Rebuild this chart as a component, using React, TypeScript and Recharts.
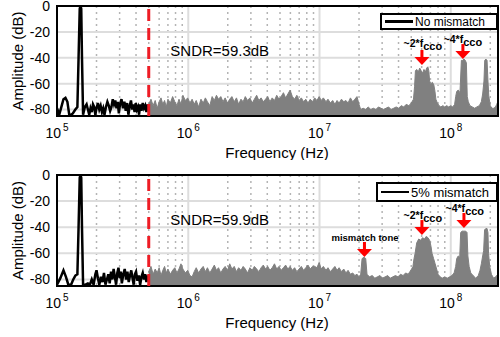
import { ComposedChart, Line, Area, XAxis, YAxis, CartesianGrid, ReferenceLine, ReferenceDot, ReferenceArea } from 'recharts'

const FONT = '"Liberation Sans", Arial, Helvetica, sans-serif'

const xTicks = [1e5, 1e6, 1e7, 1e8]
const xTickExp = ['5', '6', '7', '8']
const yTicks = [-80, -60, -40, -20, 0]
const yGrid = [-80, -60, -40, -20]
const majorGrid = [1e6, 1e7, 1e8]
const minorGrid = [
  2e5, 3e5, 4e5, 5e5, 6e5, 7e5, 8e5, 9e5,
  2e6, 3e6, 4e6, 5e6, 6e6, 7e6, 8e6, 9e6,
  2e7, 3e7, 4e7, 5e7, 6e7, 7e7, 8e7, 9e7,
  2e8,
]
const fRange = [1e5, 2.29e8]
const dbRange = [-85, 0]
const bandEdge = 5e5

// signal band (black), [kHz, dB]
const topInBand = [
  [100, -79], [104, -84], [108, -78], [112, -72], [116, -71], [120, -74], [124, -84], [128, -84],
  [132, -83], [138, -80], [143, -78], [146, -40], [149, -2], [151, 0], [153, -2], [155, -40],
  [158, -84], [163, -78], [168, -76], [172, -80], [176, -84], [180, -79], [184, -82], [188, -76],
  [192, -78], [196, -84], [200, -79], [205, -75], [210, -80], [215, -77], [220, -82], [225, -79],
  [230, -84], [236, -78], [242, -74], [248, -77], [254, -81], [260, -78], [266, -72], [272, -76],
  [278, -73], [284, -79], [290, -74], [296, -83], [302, -76], [310, -72], [318, -79], [326, -74],
  [334, -81], [342, -75], [350, -84], [358, -77], [366, -73], [374, -80], [382, -76], [390, -82],
  [398, -75], [406, -80], [414, -78], [422, -84], [430, -76], [440, -81], [450, -75], [460, -79],
  [470, -77], [480, -82], [490, -76], [500, -79],
]

// out of band (gray), [MHz, dB]
const topOutBand = [
  [0.5, -76], [0.52, -72], [0.54, -77], [0.56, -73], [0.58, -79], [0.6, -74], [0.62, -71], [0.64, -76],
  [0.66, -73], [0.68, -78], [0.7, -72], [0.73, -75], [0.76, -70], [0.79, -74], [0.82, -77], [0.85, -72],
  [0.88, -76], [0.91, -69], [0.95, -73], [0.99, -71], [1.03, -75], [1.07, -72], [1.11, -76], [1.15, -73],
  [1.2, -78], [1.25, -72], [1.3, -75], [1.35, -71], [1.4, -74], [1.46, -77], [1.52, -70], [1.58, -73],
  [1.64, -69], [1.7, -72], [1.77, -70], [1.84, -74], [1.91, -71], [1.99, -75], [2.07, -72], [2.15, -70],
  [2.24, -74], [2.33, -71], [2.42, -76], [2.52, -72], [2.62, -74], [2.72, -70], [2.83, -73], [2.95, -71],
  [3.07, -75], [3.19, -72], [3.32, -69], [3.45, -73], [3.59, -71], [3.73, -74], [3.88, -72], [4.03, -70],
  [4.19, -74], [4.36, -71], [4.54, -73], [4.72, -69], [4.91, -72], [5.1, -70], [5.31, -67], [5.52, -71],
  [5.74, -68], [5.97, -65], [6.21, -70], [6.46, -72], [6.72, -69], [6.99, -73], [7.27, -71], [7.56, -74],
  [7.86, -72], [8.17, -75], [8.5, -72], [8.84, -74], [9.19, -71], [9.56, -73], [9.94, -70], [10.3, -73],
  [10.7, -71], [11.2, -74], [11.6, -72], [12.1, -75], [12.6, -73], [13.1, -76], [13.6, -73], [14.1, -75],
  [14.7, -72], [15.3, -74], [15.9, -73], [16.5, -75], [17.2, -71], [17.9, -74], [18.6, -72], [19.3, -70],
  [20.0, -76], [20.6, -80], [21.5, -79], [22.5, -80], [23.5, -78], [24.6, -80], [25.7, -79], [26.9, -80],
  [28.1, -78], [29.4, -79], [30.7, -80], [32.1, -79], [33.6, -78], [35.1, -80], [36.7, -79], [38.4, -78],
  [40.1, -79], [41.9, -77], [43.8, -78], [45.8, -76], [47.9, -77], [50.0, -75], [52.0, -72], [53.0, -62],
  [53.8, -50], [55.0, -49], [56.5, -51], [58.0, -48], [59.5, -50], [61.0, -52], [62.5, -49], [64.0, -51],
  [65.5, -48], [66.9, -47], [68.0, -50], [69.0, -58], [70.5, -60], [72.5, -59], [74.3, -61], [75.8, -66],
  [77.0, -72], [79.0, -75], [81.5, -77], [84.0, -78], [87.0, -77], [90.0, -78], [93.0, -77], [96.5, -78],
  [100.0, -77], [103.5, -78], [107.0, -76], [109.0, -70], [111.0, -66], [114.0, -65], [117.5, -67], [120.5, -42],
  [123.0, -42], [126.0, -41], [129.0, -42], [131.5, -44], [133.5, -70], [136.0, -74], [140.0, -77], [146.0, -78],
  [152.0, -79], [158.0, -78], [165.0, -77], [171.0, -74], [175.0, -68], [179.0, -58], [181.5, -42], [185.0, -41],
  [189.0, -42], [192.0, -58], [195.0, -70], [200.0, -77], [206.0, -79], [213.0, -79], [219.0, -78], [224.0, -76],
  [228.0, -74],
]

const botInBand = [
  [100, -84], [106, -79], [112, -73], [117, -78], [122, -84], [128, -84], [133, -80], [138, -77],
  [143, -76], [146, -40], [149, -2], [151, 0], [153, -2], [155, -40], [158, -84], [165, -84],
  [172, -83], [178, -84], [184, -80], [190, -84], [196, -76], [200, -73], [205, -79], [210, -84],
  [216, -78], [222, -82], [228, -75], [234, -84], [240, -80], [246, -76], [252, -83], [258, -74],
  [264, -80], [270, -72], [276, -78], [282, -84], [288, -75], [294, -71], [300, -79], [306, -74],
  [312, -83], [320, -76], [328, -72], [336, -80], [344, -74], [352, -82], [360, -77], [368, -73],
  [376, -79], [384, -84], [392, -76], [400, -74], [410, -81], [420, -77], [430, -84], [440, -78],
  [450, -75], [460, -80], [470, -76], [480, -82], [490, -77], [500, -80],
]

const botOutBand = [
  [0.5, -74], [0.52, -70], [0.54, -76], [0.56, -72], [0.58, -75], [0.6, -71], [0.62, -77], [0.64, -73],
  [0.66, -70], [0.68, -75], [0.7, -72], [0.73, -76], [0.76, -73], [0.79, -71], [0.82, -75], [0.85, -72],
  [0.88, -68], [0.91, -72], [0.95, -75], [0.99, -73], [1.03, -77], [1.07, -78], [1.11, -74], [1.15, -71],
  [1.2, -75], [1.25, -72], [1.3, -70], [1.35, -74], [1.4, -71], [1.46, -75], [1.52, -72], [1.58, -69],
  [1.64, -73], [1.7, -71], [1.77, -75], [1.84, -72], [1.91, -70], [1.99, -73], [2.07, -68], [2.15, -72],
  [2.24, -70], [2.33, -74], [2.42, -71], [2.52, -73], [2.62, -70], [2.72, -72], [2.83, -75], [2.95, -71],
  [3.07, -73], [3.19, -70], [3.32, -72], [3.45, -74], [3.59, -71], [3.73, -69], [3.88, -72], [4.03, -70],
  [4.19, -73], [4.36, -71], [4.54, -68], [4.72, -72], [4.91, -70], [5.1, -73], [5.31, -71], [5.52, -69],
  [5.74, -72], [5.97, -70], [6.21, -73], [6.46, -71], [6.72, -74], [6.99, -72], [7.27, -70], [7.56, -73],
  [7.86, -71], [8.17, -69], [8.5, -72], [8.84, -70], [9.19, -70], [9.56, -71], [9.94, -67], [10.3, -72],
  [10.7, -70], [11.2, -73], [11.6, -71], [12.1, -74], [12.6, -72], [13.1, -70], [13.6, -73], [14.1, -71],
  [14.7, -74], [15.3, -72], [15.9, -75], [16.5, -73], [17.2, -76], [17.9, -75], [18.6, -77], [19.3, -76],
  [20.0, -78], [20.6, -76], [21.1, -64], [21.8, -63], [22.5, -64], [23.0, -76], [24.0, -78], [25.2, -77],
  [26.4, -79], [27.6, -78], [28.9, -77], [30.2, -79], [31.6, -78], [33.1, -77], [34.6, -79], [36.2, -78],
  [37.9, -77], [39.6, -78], [41.4, -76], [43.3, -77], [45.3, -75], [47.4, -76], [48.8, -74], [50.3, -72],
  [51.5, -70], [52.5, -64], [53.5, -60], [55.0, -52], [57.0, -49], [59.0, -50], [61.0, -48], [63.0, -49],
  [65.0, -47], [67.0, -48], [69.0, -50], [70.5, -54], [72.0, -60], [74.0, -64], [76.0, -68], [78.0, -72],
  [80.0, -76], [83.0, -78], [86.0, -79], [90.0, -78], [94.0, -79], [98.0, -78], [102.0, -77], [106.0, -75],
  [109.0, -70], [111.0, -64], [114.0, -62], [117.0, -63], [119.0, -44], [122.0, -43], [126.0, -43], [130.0, -43],
  [133.0, -44], [135.0, -62], [138.0, -70], [142.0, -75], [148.0, -77], [155.0, -79], [162.0, -77], [167.0, -73],
  [171.0, -68], [175.0, -62], [178.0, -58], [181.0, -42], [185.0, -41], [189.0, -41], [192.0, -44], [194.0, -60],
  [198.0, -70], [204.0, -76], [212.0, -79], [220.0, -78], [228.0, -76],
]

// annotations: [MHz, dB]
const topNotes = [
  { f: 61.3, db: -28.6, text: '~2*f', sub: 'cco' },
  { f: 123.7, db: -25.5, text: '~4*f', sub: 'cco' },
]
const topArrows = [[60.3, -45.6], [123.7, -41]]
const botNotes = [
  { f: 61.3, db: -30.6, text: '~2*f', sub: 'cco' },
  { f: 128, db: -25.3, text: '~4*f', sub: 'cco' },
  { f: 22.2, db: -47.5, text: 'mismatch tone', sub: '' },
]
const botArrows = [[60.3, -46], [126, -40.6], [22, -62.8]]

const toRows = (pts: number[][], unit: number) => pts.map(([f, db]) => ({ f: f * unit, db }))

const DecadeTick = (props: any) => {
  const { x, y, payload } = props
  const i = xTicks.indexOf(payload.value)
  return (
    <text x={x} y={y + 22} textAnchor="middle" fontFamily={FONT} fontSize={14} fill="#000">
      <tspan>10</tspan>
      <tspan dx={2} dy={-7} fontSize={10}>{xTickExp[i]}</tspan>
    </text>
  )
}

const Arrow = (props: any) => {
  const { cx, cy } = props
  return (
    <g>
      <rect x={cx - 1.5} y={cy - 15} width={3} height={8} fill="#ff0000" />
      <polygon points={`${cx - 7.5},${cy - 8} ${cx + 7.5},${cy - 8} ${cx},${cy}`} fill="#ff0000" />
    </g>
  )
}

const noteShape = (text: string, sub: string) => (props: any) => (
  <text x={props.cx} y={props.cy} textAnchor="middle" dominantBaseline="central"
    fontFamily={FONT} fontWeight="bold" fontSize={sub ? 10.5 : 9.5} fill="#000">
    {text}
    {sub && <tspan dy={3} fontSize={11}>{sub}</tspan>}
  </text>
)

interface PanelProps {
  height: number
  top: number
  axisHeight: number
  inBand: { f: number; db: number }[]
  outBand: { f: number; db: number }[]
  sndr: string
  legend: string
  legendBox: { left: number; top: number; width: number; height: number; fontSize: number }
  notes: typeof botNotes
  arrows: number[][]
}

function SpectrumPanel({ height, top, axisHeight, inBand, outBand, sndr, legend, legendBox, notes, arrows }: PanelProps) {
  const plotH = height - top - axisHeight
  return (
    <div style={{ position: 'relative', width: 500, height }}>
      <ComposedChart width={500} height={height} margin={{ top, right: 2, bottom: 0, left: 0 }}>
        <CartesianGrid verticalValues={minorGrid} horizontal={false} stroke="#b4b4b4" strokeWidth={1.5} strokeDasharray="2 4" />
        <CartesianGrid verticalValues={majorGrid} horizontalValues={yGrid} stroke="#dddddd" strokeWidth={2} />
        <XAxis dataKey="f" type="number" scale="log" domain={fRange} ticks={xTicks} tick={<DecadeTick />}
          tickLine={false} axisLine={false} tickSize={0} tickMargin={0} allowDataOverflow height={axisHeight} interval={0} />
        <YAxis type="number" domain={dbRange} ticks={yTicks} width={57} tickLine={false} axisLine={false}
          tickSize={0} tickMargin={7} interval={0} allowDataOverflow
          tick={{ fontSize: 14, fill: '#000', fontFamily: FONT }} />
        <Area data={outBand} dataKey="db" type="linear" stroke="#808080" strokeWidth={1} fill="#808080"
          fillOpacity={1} baseValue="dataMin" dot={false} activeDot={false} isAnimationActive={false} />
        <Line data={inBand} dataKey="db" type="linear" stroke="#000" strokeWidth={2.5} dot={false}
          activeDot={false} isAnimationActive={false} />
        <ReferenceLine x={bandEdge} stroke="#ee1c25" strokeWidth={3} strokeDasharray="12 7" />
        <ReferenceArea x1={fRange[0]} x2={fRange[1]} y1={dbRange[0]} y2={dbRange[1]} fill="none"
          fillOpacity={0} stroke="#000" strokeWidth={2} ifOverflow="visible" />
        <ReferenceDot x={0.73e6} y={-34} ifOverflow="visible"
          shape={(p: any) => (
            <text x={p.cx} y={p.cy} dominantBaseline="central" fontFamily={FONT} fontSize={15} fill="#000">{sndr}</text>
          )} />
        {notes.map((n, i) => (
          <ReferenceDot key={'n' + i} x={n.f * 1e6} y={n.db} ifOverflow="visible" shape={noteShape(n.text, n.sub)} />
        ))}
        {arrows.map(([f, db], i) => (
          <ReferenceDot key={'a' + i} x={f * 1e6} y={db} ifOverflow="visible" shape={Arrow} />
        ))}
        <text x={17} y={top + plotH / 2} transform={`rotate(-90 17 ${top + plotH / 2})`} textAnchor="middle"
          dominantBaseline="central" fontFamily={FONT} fontSize={15} fill="#000">Amplitude (dB)</text>
        <text x={277} y={top + plotH + 36} textAnchor="middle" dominantBaseline="central"
          fontFamily={FONT} fontSize={15} fill="#000">Frequency (Hz)</text>
      </ComposedChart>
      <div style={{
        position: 'absolute', left: legendBox.left, top: legendBox.top, width: legendBox.width,
        height: legendBox.height, boxSizing: 'border-box', border: '2px solid #000', background: '#fff',
        display: 'flex', alignItems: 'center', paddingLeft: 3, fontFamily: FONT, fontSize: legendBox.fontSize,
      }}>
        <span style={{ display: 'inline-block', width: 28, height: 2.5, background: '#000', marginRight: 2 }} />
        <span>{legend}</span>
      </div>
    </div>
  )
}

export default function App() {
  return (
    <div style={{ position: 'absolute', left: 0, top: 0, width: 500, height: 337, background: '#fff' }}>
      <SpectrumPanel height={160} top={6} axisHeight={44}
        inBand={toRows(topInBand, 1e3)} outBand={toRows(topOutBand, 1e6)}
        sndr="SNDR=59.3dB" legend="No mismatch"
        legendBox={{ left: 380, top: 13, width: 118, height: 17, fontSize: 12 }}
        notes={topNotes} arrows={topArrows} />
      <SpectrumPanel height={177} top={15} axisHeight={51}
        inBand={toRows(botInBand, 1e3)} outBand={toRows(botOutBand, 1e6)}
        sndr="SNDR=59.9dB" legend="5% mismatch"
        legendBox={{ left: 376, top: 22, width: 122, height: 20, fontSize: 13 }}
        notes={botNotes} arrows={botArrows} />
    </div>
  )
}
